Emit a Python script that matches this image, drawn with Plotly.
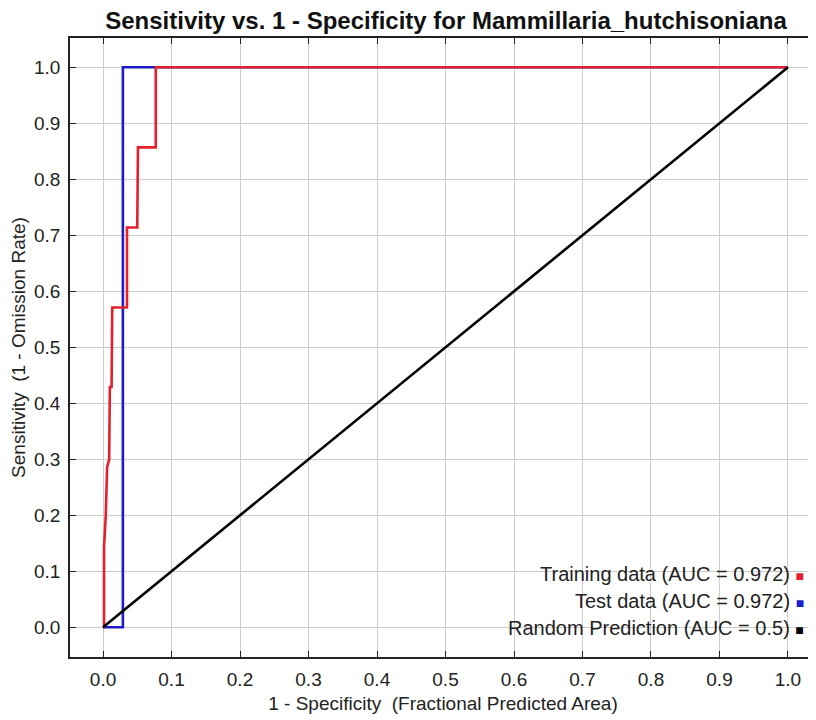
import plotly.graph_objects as go

# ROC data
train_fpr = [0.0, 0.0015, 0.0015, 0.004, 0.006, 0.009, 0.010, 0.0125, 0.0135, 0.035, 0.035, 0.050, 0.051, 0.077, 0.077, 1.0]
train_tpr = [0.0, 0.0, 0.143, 0.20, 0.286, 0.30, 0.429, 0.429, 0.571, 0.571, 0.714, 0.714, 0.857, 0.857, 1.0, 1.0]
test_fpr = [0.0, 0.029, 0.029, 1.0]
test_tpr = [0.0, 0.0, 1.0, 1.0]
random_x = [0.0, 1.0]
random_y = [0.0, 1.0]

tick_vals = [0.0, 0.1, 0.2, 0.3, 0.4, 0.5, 0.6, 0.7, 0.8, 0.9, 1.0]
tick_text = ["0.0", "0.1", "0.2", "0.3", "0.4", "0.5", "0.6", "0.7", "0.8", "0.9", "1.0"]

legend_labels = ["Training data (AUC = 0.972)", "Test data (AUC = 0.972)", "Random Prediction (AUC = 0.5)"]
legend_colors = ["#e4202c", "#1c1ccc", "#000000"]

FONT = "Liberation Sans, Arial, sans-serif"

fig = go.Figure()
fig.add_trace(go.Scatter(x=test_fpr, y=test_tpr, mode="lines",
                         line=dict(color=legend_colors[1], width=2.6), showlegend=False))
fig.add_trace(go.Scatter(x=train_fpr, y=train_tpr, mode="lines",
                         line=dict(color=legend_colors[0], width=2.6), showlegend=False))
fig.add_trace(go.Scatter(x=random_x, y=random_y, mode="lines",
                         line=dict(color=legend_colors[2], width=2.6), showlegend=False))

axis_common = dict(
    tickvals=tick_vals, ticktext=tick_text, automargin=False,
    showgrid=True, gridcolor="#cccccc", gridwidth=1,
    zeroline=False, showline=True, linecolor="#222222", linewidth=1.5,
    ticks="inside", ticklen=6, tickcolor="#222222", tickwidth=1,
    tickfont=dict(family=FONT, size=19, color="#222222"),
)

fig.update_xaxes(range=[-0.0482, 1.0409], mirror="ticks", ticklabelstandoff=4,
                 title=dict(text="1 - Specificity\u00a0 (Fractional Predicted Area)",
                            font=dict(family=FONT, size=19, color="#222222"), standoff=8),
                 **axis_common)
fig.update_yaxes(range=[-0.053, 1.0523], ticklabelstandoff=4,
                 title=dict(text="Sensitivity\u00a0 (1 - Omission Rate)",
                            font=dict(family=FONT, size=19, color="#222222"), standoff=4),
                 **axis_common)

# legend background box (covers gridlines, below traces)
fig.add_shape(type="rect", xref="paper", yref="paper",
              x0=0.576, x1=0.989, y0=0.0178, y1=0.1616,
              fillcolor="white", line=dict(width=0), layer="between")

legend_y = [0.134, 0.0905, 0.0468]
for lab, col, yy in zip(legend_labels, legend_colors, legend_y):
    fig.add_annotation(
        xref="paper", yref="paper", x=0.9866, y=yy, xanchor="right", yanchor="middle",
        showarrow=False, align="right",
        text=f"{lab} <span style='color:{col};font-size:14px'>\u25a0</span>",
        font=dict(family=FONT, size=20, color="#222222"),
    )

fig.update_layout(
    width=808, height=712,
    margin=dict(l=62, r=0, t=30, b=63),
    paper_bgcolor="white", plot_bgcolor="white",
    title=dict(text="<b>Sensitivity vs. 1 - Specificity for Mammillaria_hutchisoniana</b>",
               x=0.5421, xref="container", xanchor="center",
               y=0.983, yref="container", yanchor="middle",
               font=dict(family=FONT, size=24, color="#111111")),
    showlegend=False,
)

fig.write_html("out.html")
